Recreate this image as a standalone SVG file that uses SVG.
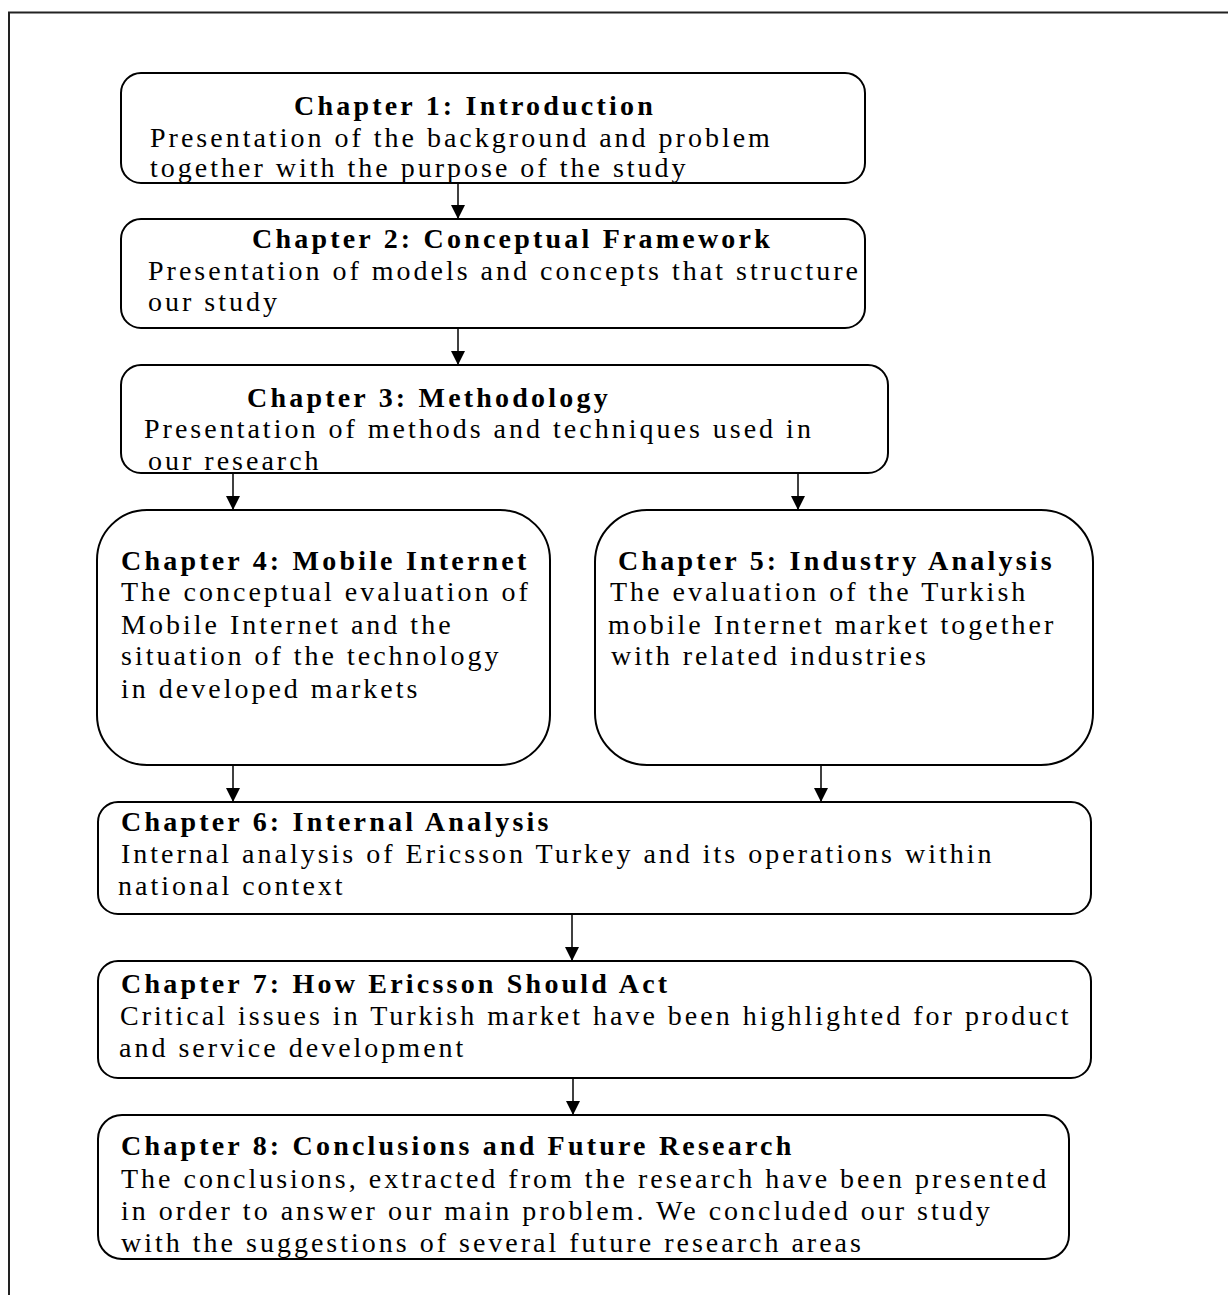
<svg xmlns="http://www.w3.org/2000/svg" width="1228" height="1295" viewBox="0 0 1228 1295">
  <defs>
    <marker id="arrow" viewBox="0 0 10 10" refX="10" refY="5" markerUnits="userSpaceOnUse" markerWidth="14" markerHeight="14" orient="auto">
      <path d="M0,0 L10,5 L0,10 z" fill="#000"/>
    </marker>
  </defs>
  <style>
    .box { fill: #fff; stroke: #000; stroke-width: 2; }
    .frame { fill: none; stroke: #222; stroke-width: 2; }
    .conn line { stroke: #000; stroke-width: 1.5; marker-end: url(#arrow); }
    text { font-family: "Liberation Serif", "Times New Roman", serif; font-size: 28px; fill: #000; letter-spacing: 3px; }
    .t { font-weight: bold; letter-spacing: 3.2px; }
  </style>

  <rect width="1228" height="1295" fill="#fff"/>
  <!-- page frame (top and left edges) -->
  <path class="frame" d="M9,1295 L9,12.5 L1228,12.5"/>

  <g id="connectors" class="conn">
    <line x1="458" y1="183" x2="458" y2="219"/>
    <line x1="458" y1="328" x2="458" y2="365"/>
    <line x1="233" y1="473" x2="233" y2="510"/>
    <line x1="798" y1="473" x2="798" y2="510"/>
    <line x1="233" y1="765" x2="233" y2="802"/>
    <line x1="821" y1="765" x2="821" y2="802"/>
    <line x1="572" y1="914" x2="572" y2="961"/>
    <line x1="573" y1="1078" x2="573" y2="1115"/>
  </g>

  <g id="chapter1">
    <rect class="box" x="121" y="73" width="744" height="110" rx="20"/>
    <text class="t" x="294" y="115">Chapter 1: Introduction</text>
    <text x="150" y="147">Presentation of the background and problem</text>
    <text x="150" y="177">together with the purpose of the study</text>
  </g>

  <g id="chapter2">
    <rect class="box" x="121" y="219" width="744" height="109" rx="20"/>
    <text class="t" x="252" y="248">Chapter 2: Conceptual Framework</text>
    <text x="148" y="280">Presentation of models and concepts that structure</text>
    <text x="148" y="311">our study</text>
  </g>

  <g id="chapter3">
    <rect class="box" x="121" y="365" width="767" height="108" rx="20"/>
    <text class="t" x="247" y="407">Chapter 3: Methodology</text>
    <text x="144" y="438">Presentation of methods and techniques used in</text>
    <text x="148" y="470">our research</text>
  </g>

  <g id="chapter4">
    <rect class="box" x="97" y="510" width="453" height="255" rx="50"/>
    <text class="t" x="121" y="570">Chapter 4: Mobile Internet</text>
    <text x="121" y="601">The conceptual evaluation of</text>
    <text x="121" y="634">Mobile Internet and the</text>
    <text x="121" y="665">situation of the technology</text>
    <text x="121" y="698">in developed markets</text>
  </g>

  <g id="chapter5">
    <rect class="box" x="595" y="510" width="498" height="255" rx="52"/>
    <text class="t" x="618" y="570">Chapter 5: Industry Analysis</text>
    <text x="610" y="601">The evaluation of the Turkish</text>
    <text x="608" y="634">mobile Internet market together</text>
    <text x="611" y="665">with related industries</text>
  </g>

  <g id="chapter6">
    <rect class="box" x="98" y="802" width="993" height="112" rx="20"/>
    <text class="t" x="121" y="831">Chapter 6: Internal Analysis</text>
    <text x="121" y="863">Internal analysis of Ericsson Turkey and its operations within</text>
    <text x="118" y="895">national context</text>
  </g>

  <g id="chapter7">
    <rect class="box" x="98" y="961" width="993" height="117" rx="20"/>
    <text class="t" x="121" y="993">Chapter 7: How Ericsson Should Act</text>
    <text x="120" y="1025">Critical issues in Turkish market have been highlighted for product</text>
    <text x="119" y="1057">and service development</text>
  </g>

  <g id="chapter8">
    <rect class="box" x="98" y="1115" width="971" height="144" rx="24"/>
    <text class="t" x="121" y="1155">Chapter 8: Conclusions and Future Research</text>
    <text x="121" y="1188">The conclusions, extracted from the research have been presented</text>
    <text x="121" y="1220">in order to answer our main problem. We concluded our study</text>
    <text x="121" y="1252">with the suggestions of several future research areas</text>
  </g>
</svg>
